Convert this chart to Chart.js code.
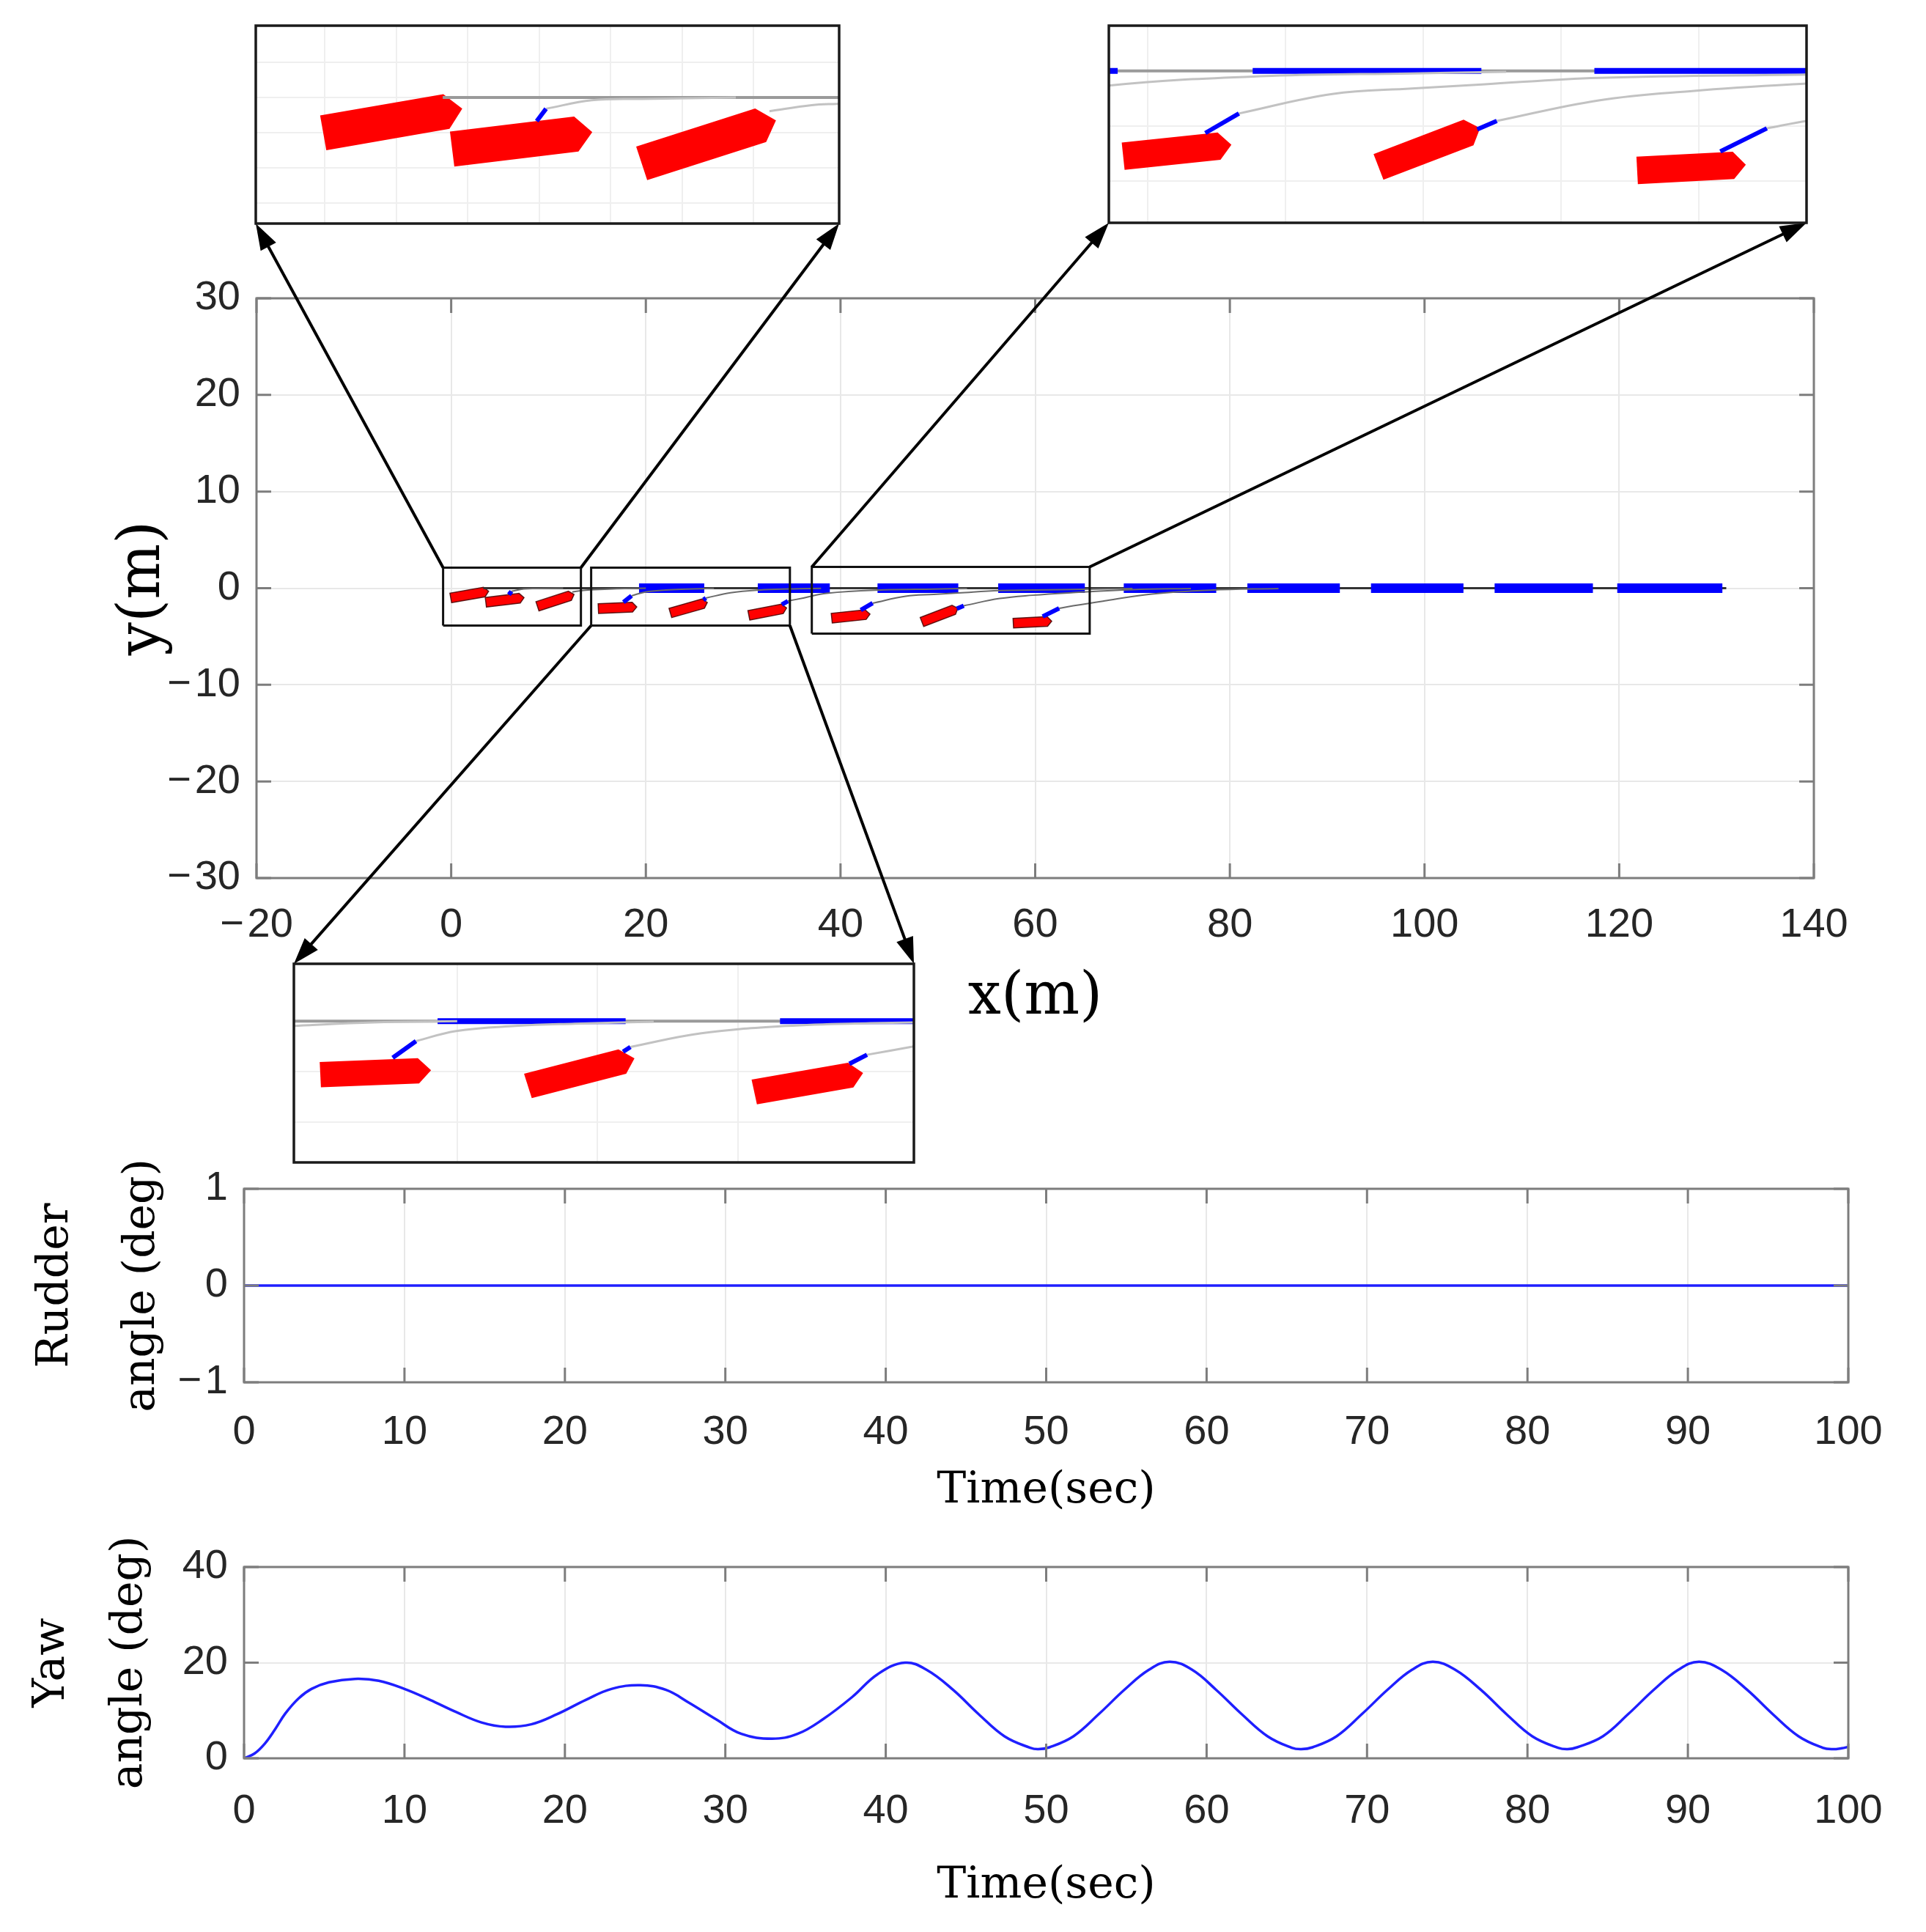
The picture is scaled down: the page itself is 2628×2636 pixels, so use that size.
<!DOCTYPE html>
<html>
  <head>
    <title>Ship path following</title>
    <script src="https://cdn.jsdelivr.net/npm/chart.js"></script>
    <style>
      body { margin: 0; background: #fff; }
      #page { position: relative; width: 2628px; height: 2636px; overflow: hidden; }
      canvas { position: absolute; }
    </style>
  </head>
  <body>
    <div id="page">
      <canvas id="trackChart" width="2628" height="1610" style="left:0px;top:0px"></canvas>
      <canvas id="rudderChart" width="2628" height="540" style="left:0px;top:1540px"></canvas>
      <canvas id="yawChart" width="2628" height="576" style="left:0px;top:2060px"></canvas>
    </div>

    <script>
      // ---- ship snapshots on the x-y plane (m, deg) ----
      const shipX = [1.68, 5.30, 10.53, 16.87, 24.2, 32.3, 40.84, 50.0, 59.5];
      const shipY = [-0.70, -1.25, -1.33, -2.04, -2.08, -2.47, -2.92, -2.87, -3.53];
      const shipHeading = [10, 7, 18, 2.5, 16, 11, 6, 21, 3];
      // hull outline in the ship frame (m)
      const hullX = [-1.75, 1.75, 2.2, 1.75, -1.75];
      const hullY = [-0.5, -0.5, 0, 0.5, 0.5];

      // short blue lines at the bow
      const rudderX0 = [5.93, 17.70, 25.91, 33.97, 42.08, 51.95, 60.77];
      const rudderY0 = [-0.67, -1.45, -1.21, -1.69, -2.26, -2.13, -2.93];
      const rudderX1 = [6.19, 18.53, 26.17, 34.60, 43.30, 52.66, 62.46];
      const rudderY1 = [-0.32, -0.79, -1.02, -1.33, -1.55, -1.82, -2.09];

      // grey predicted paths
      const pathX = [
        [6.19, 7.47, 8.89, 11.5],
        [12.44, 13.62, 14.33, 17.0, 20.0],
        [18.53, 19.96, 22.07, 24.18, 27.0],
        [26.17, 28.70, 31.71, 34.72, 38.0],
        [34.60, 36.26, 38.58, 44.48, 49.57, 53.0],
        [43.30, 46.69, 49.57, 52.12, 56.36, 63.90, 70.0],
        [52.66, 56.36, 59.75, 63.90, 70.0, 76.0],
        [62.46, 63.90, 67.3, 72.0, 78.0, 85.0]
      ];
      const pathY = [
        [-0.32, -0.08, -0.04, 0],
        [-0.39, -0.22, -0.18, -0.05, 0],
        [-0.79, -0.39, -0.19, -0.10, -0.02],
        [-1.02, -0.48, -0.19, -0.08, -0.02],
        [-1.33, -1.00, -0.53, -0.18, -0.09, -0.03],
        [-1.55, -0.84, -0.64, -0.49, -0.25, -0.13, -0.04],
        [-1.82, -1.07, -0.73, -0.46, -0.15, -0.03],
        [-2.09, -1.82, -1.29, -0.60, -0.20, -0.03]
      ];

      // reference line and the blue dashed desired path
      const refX = [3.3, 131.0];
      const refY = [0, 0];
      const dashStart = [19.3, 31.5, 43.8, 56.2, 69.1, 81.8, 94.5, 107.2, 119.8];
      const dashEnd = [26.0, 38.9, 52.1, 65.1, 78.6, 91.3, 104.0, 117.3, 130.6];

      // zoom boxes on the main plot
      const zoomBoxX0 = [-0.83, 14.38, 37.05];
      const zoomBoxX1 = [13.33, 34.80, 65.60];
      const zoomBoxY0 = [-3.87, -3.87, -4.70];
      const zoomBoxY1 = [2.12, 2.12, 2.20];

      // inset windows (top-left, top-right, bottom)
      const insetXMin = [-1.93, 38.58, 14.18];
      const insetXMax = [14.39, 63.90, 36.27];
      const insetYMin = [-3.58, -5.53, -5.59];
      const insetYMax = [2.04, 1.65, 2.27];
      const insetXStep = [2, 5, 5];
      const insetYStep = [1, 2, 2];

      // ---- time histories ----
      const rudderT = [0, 100];
      const rudderDeg = [0, 0];
      const yawT = [0, 0.65, 1.3, 1.94, 2.58, 3.39, 4.2, 5.3, 6.9, 8.4, 10.0, 11.6, 13.2, 14.8, 16.3,
        17.9, 19.5, 21.3, 22.9, 24.7, 26.3, 27.7, 29.4, 31.0, 32.9, 34.5, 36.1, 37.9, 39.5, 41.2,
        42.6, 44.2, 45.8, 47.4, 49.0, 49.5, 50.2, 51.7, 53.3, 54.9, 56.4, 57.7, 59.1, 60.6, 62.2,
        63.8, 65.3, 65.9, 66.6, 68.1, 69.7, 71.3, 72.8, 74.1, 75.5, 77.1, 78.7, 80.3, 81.9, 82.5,
        83.1, 84.7, 86.3, 87.9, 89.4, 90.7, 92.1, 93.7, 95.3, 96.9, 98.4, 99.0, 99.6, 100];
      const yawDeg = [0, 1.0, 3.1, 6.1, 9.4, 12.5, 14.5, 15.9, 16.6, 16.2, 14.5, 12.2, 9.7, 7.5, 6.6,
        7.1, 9.2, 12.2, 14.5, 15.3, 14.3, 11.7, 8.2, 5.1, 4.1, 5.1, 8.2, 12.8, 17.6, 20.0,
        18.4, 14.3, 9.2, 4.6, 2.2, 1.9, 2.3, 4.6, 9.3, 14.4, 18.5, 20.2, 18.5, 14.3, 9.2,
        4.6, 2.2, 1.9, 2.3, 4.6, 9.3, 14.4, 18.5, 20.2, 18.5, 14.3, 9.2, 4.6, 2.2, 1.9,
        2.3, 4.6, 9.3, 14.4, 18.5, 20.2, 18.5, 14.3, 9.2, 4.6, 2.2, 1.9, 2.1, 2.4];

      const sans = "'Liberation Sans', Arial, sans-serif";
      const serif = "'DejaVu Serif', 'Liberation Serif', serif";
      const tickFont = { family: sans, size: 56 };
      const BLUE = "#0000ff";

      function minus(v) {
        return v < 0 ? "\u2212\u200a" + Math.abs(v) : String(v);
      }

      function line(xs, ys, color, width, tension) {
        return {
          data: xs.map((x, i) => ({ x: x, y: ys[i] })),
          showLine: true,
          borderColor: color,
          borderWidth: width,
          borderJoinStyle: "miter",
          pointRadius: 0,
          tension: tension || 0,
          clip: 0
        };
      }

      // everything on the x-y plane, listed bottom to top
      function trackDatasets(s) {
        const sets = [];
        sets.push(line(refX, refY, s.refColor, s.refWidth));
        dashStart.forEach((x0, i) => sets.push(line([x0, dashEnd[i]], [0, 0], BLUE, s.dashWidth)));
        pathX.forEach((px, i) => sets.push(line(px, pathY[i], s.pathColor, s.pathWidth, 0.4)));
        rudderX0.forEach((x0, i) =>
          sets.push(line([x0, rudderX1[i]], [rudderY0[i], rudderY1[i]], BLUE, s.rudderWidth))
        );
        if (s.boxes) {
          zoomBoxX0.forEach((x0, i) => {
            const x1 = zoomBoxX1[i], y0 = zoomBoxY0[i], y1 = zoomBoxY1[i];
            sets.push(line([x0, x1, x1, x0, x0], [y0, y0, y1, y1, y0], "#111", 3));
          });
        }
        // chart.js paints dataset 0 last
        return sets.reverse();
      }

      const shipPlugin = {
        id: "ships",
        beforeDatasetsDraw(chart, args, opts) {
          const { ctx, chartArea: a } = chart;
          const sx = chart.scales.x, sy = chart.scales.y;
          ctx.save();
          ctx.beginPath();
          ctx.rect(a.left, a.top, a.width, a.height);
          ctx.clip();
          shipX.forEach((cx, i) => {
            const r = (shipHeading[i] * Math.PI) / 180;
            ctx.beginPath();
            hullX.forEach((hx, k) => {
              const px = sx.getPixelForValue(cx + hx * Math.cos(r) - hullY[k] * Math.sin(r));
              const py = sy.getPixelForValue(shipY[i] + hx * Math.sin(r) + hullY[k] * Math.cos(r));
              if (k === 0) ctx.moveTo(px, py);
              else ctx.lineTo(px, py);
            });
            ctx.closePath();
            ctx.fillStyle = "#ff0000";
            ctx.fill();
            if (opts.outline) {
              ctx.strokeStyle = "rgba(70,0,0,0.85)";
              ctx.lineWidth = 1.5;
              ctx.stroke();
            }
          });
          ctx.restore();
        }
      };

      // box round the plot area, with inward ticks like matlab
      const framePlugin = {
        id: "frame",
        afterDatasetsDraw(chart, args, o) {
          const { ctx, chartArea: a } = chart;
          ctx.save();
          ctx.strokeStyle = o.color;
          ctx.lineWidth = o.width;
          if (o.tickLen) {
            const L = o.tickLen;
            ctx.beginPath();
            chart.scales.x.ticks.forEach((t) => {
              const p = chart.scales.x.getPixelForValue(t.value);
              ctx.moveTo(p, a.bottom); ctx.lineTo(p, a.bottom - L);
              ctx.moveTo(p, a.top); ctx.lineTo(p, a.top + L);
            });
            chart.scales.y.ticks.forEach((t) => {
              const p = chart.scales.y.getPixelForValue(t.value);
              ctx.moveTo(a.left, p); ctx.lineTo(a.left + L, p);
              ctx.moveTo(a.right, p); ctx.lineTo(a.right - L, p);
            });
            ctx.stroke();
          }
          ctx.strokeRect(a.left, a.top, a.width, a.height);
          ctx.restore();
        }
      };

      // fixed axis sizes so the plot areas land where the figure has them
      function fixHeight(h) {
        return (s) => { s.height = h; s.paddingLeft = 0; s.paddingRight = 0; };
      }
      function fixWidth(w) {
        return (s) => { s.width = w; s.paddingTop = 0; s.paddingBottom = 0; };
      }

      const page = document.getElementById("page");

      // ---- the three zoomed insets ----
      const insetBoxes = [
        [349, 35, 796, 270],
        [1513, 35, 952, 269],
        [401, 1315, 846, 271]
      ];
      const m = 6;
      const insetStyle = {
        refColor: "#9a9a9a", refWidth: 4, dashWidth: 8,
        pathColor: "#c2c2c2", pathWidth: 3, rudderWidth: 6, boxes: false
      };

      const insetCharts = insetBoxes.map((b, k) => {
        const cv = document.createElement("canvas");
        cv.width = b[2] + 2 * m;
        cv.height = b[3] + 2 * m;
        cv.style.left = b[0] - m + "px";
        cv.style.top = b[1] - m + "px";
        page.appendChild(cv);
        return new Chart(cv, {
          type: "scatter",
          data: { datasets: trackDatasets(insetStyle) },
          options: {
            responsive: false,
            devicePixelRatio: 1,
            animation: false,
            events: [],
            layout: { padding: m },
            plugins: {
              legend: { display: false },
              tooltip: { enabled: false },
              frame: { color: "#1a1a1a", width: 3.5 },
              ships: { outline: false }
            },
            scales: {
              x: {
                min: insetXMin[k], max: insetXMax[k],
                afterFit: fixHeight(0),
                ticks: { display: false, stepSize: insetXStep[k] },
                grid: { color: "#efefef", lineWidth: 2, drawTicks: false },
                border: { display: false }
              },
              y: {
                min: insetYMin[k], max: insetYMax[k],
                afterFit: fixWidth(0),
                ticks: { display: false, stepSize: insetYStep[k] },
                grid: { color: "#efefef", lineWidth: 2, drawTicks: false },
                border: { display: false }
              }
            }
          },
          plugins: [shipPlugin, framePlugin]
        });
      });

      // arrows: [box, box right?, box top?, inset, inset right?, inset top?]
      const arrowLinks = [
        [0, 0, 1, 0, 0, 0],
        [0, 1, 1, 0, 1, 0],
        [2, 0, 1, 1, 0, 0],
        [2, 1, 1, 1, 1, 0],
        [1, 0, 0, 2, 0, 1],
        [1, 1, 0, 2, 1, 1]
      ];

      const arrowPlugin = {
        id: "zoomArrows",
        afterDraw(chart) {
          const { ctx } = chart;
          const sx = chart.scales.x, sy = chart.scales.y;
          ctx.save();
          ctx.strokeStyle = "#000";
          ctx.fillStyle = "#000";
          ctx.lineWidth = 4;
          arrowLinks.forEach(([b, bx, by, k, ix, iy]) => {
            const x0 = sx.getPixelForValue(bx ? zoomBoxX1[b] : zoomBoxX0[b]);
            const y0 = sy.getPixelForValue(by ? zoomBoxY1[b] : zoomBoxY0[b]);
            const a = insetCharts[k].chartArea;
            const c = insetCharts[k].canvas;
            const x1 = c.offsetLeft + (ix ? a.right : a.left);
            const y1 = c.offsetTop + (iy ? a.top : a.bottom);
            const ang = Math.atan2(y1 - y0, x1 - x0);
            const cs = Math.cos(ang), sn = Math.sin(ang);
            const head = 36, half = 12;
            ctx.beginPath();
            ctx.moveTo(x0, y0);
            ctx.lineTo(x1 - head * 0.8 * cs, y1 - head * 0.8 * sn);
            ctx.stroke();
            ctx.beginPath();
            ctx.moveTo(x1, y1);
            ctx.lineTo(x1 - head * cs + half * sn, y1 - head * sn - half * cs);
            ctx.lineTo(x1 - head * cs - half * sn, y1 - head * sn + half * cs);
            ctx.closePath();
            ctx.fill();
          });
          ctx.restore();
        }
      };

      const axisGrid = { color: "#e8e8e8", lineWidth: 2, drawTicks: false };

      // ---- main x-y plot ----
      new Chart(document.getElementById("trackChart"), {
        type: "scatter",
        data: {
          datasets: trackDatasets({
            refColor: "#333", refWidth: 3, dashWidth: 13,
            pathColor: "#6a6a6a", pathWidth: 2, rudderWidth: 6, boxes: true
          })
        },
        options: {
          responsive: false,
          devicePixelRatio: 1,
          animation: false,
          events: [],
          layout: { padding: { left: 0, top: 407, right: 153, bottom: 0 } },
          plugins: {
            legend: { display: false },
            tooltip: { enabled: false },
            frame: { color: "#7d7d7d", width: 3, tickLen: 20 },
            ships: { outline: true }
          },
          scales: {
            x: {
              min: -20, max: 140,
              afterFit: fixHeight(412),
              ticks: { stepSize: 20, padding: 31, font: tickFont, color: "#262626",
                       callback: minus, maxRotation: 0, autoSkip: false },
              grid: axisGrid,
              border: { display: false },
              title: { display: true, text: "x(m)", color: "#000",
                       font: { family: serif, size: 80, lineHeight: 1.2 },
                       padding: { top: 0, bottom: 200 } }
            },
            y: {
              min: -30, max: 30,
              afterFit: fixWidth(350),
              ticks: { stepSize: 10, padding: 22, font: tickFont, color: "#262626", callback: minus },
              grid: axisGrid,
              border: { display: false },
              title: { display: true, text: "y(m)", color: "#000",
                       font: { family: serif, size: 80, lineHeight: 1.2 },
                       padding: { top: 148, bottom: 0 } }
            }
          }
        },
        plugins: [shipPlugin, framePlugin, arrowPlugin]
      });

      // ---- time plots ----
      function timeChart(id, t, v, yMin, yMax, yStep, yTitle, titleLH, titlePad, pads) {
        return new Chart(document.getElementById(id), {
          type: "scatter",
          data: {
            datasets: [{
              data: t.map((x, i) => ({ x: x, y: v[i] })),
              showLine: true,
              borderColor: "#1f1fff",
              borderWidth: 3.5,
              pointRadius: 0,
              tension: 0.4
            }]
          },
          options: {
            responsive: false,
            devicePixelRatio: 1,
            animation: false,
            events: [],
            layout: { padding: { left: 0, top: pads.top, right: 106, bottom: 0 } },
            plugins: {
              legend: { display: false },
              tooltip: { enabled: false },
              frame: { color: "#7d7d7d", width: 3, tickLen: 20 }
            },
            scales: {
              x: {
                min: 0, max: 100,
                afterFit: fixHeight(pads.axis),
                ticks: { stepSize: 10, padding: pads.tick, font: tickFont, color: "#262626",
                         maxRotation: 0, autoSkip: false },
                grid: axisGrid,
                border: { display: false },
                title: { display: true, text: "Time(sec)", color: "#000",
                         font: { family: serif, size: 60, lineHeight: 1.2 },
                         padding: { top: 0, bottom: pads.title } }
              },
              y: {
                min: yMin, max: yMax,
                afterFit: fixWidth(333),
                ticks: { stepSize: yStep, padding: 22, font: tickFont, color: "#262626", callback: minus },
                grid: axisGrid,
                border: { display: false },
                title: { display: true, text: yTitle, color: "#000",
                         font: { family: serif, size: 60, lineHeight: titleLH },
                         padding: { top: titlePad, bottom: 0 } }
              }
            }
          },
          plugins: [framePlugin]
        });
      }

      timeChart("rudderChart", rudderT, rudderDeg, -1, 1, 1, ["Rudder", "angle (deg)"], 1.97, 17,
                { top: 82, axis: 194, tick: 35, title: 10 });
      timeChart("yawChart", yawT, yawDeg, 0, 40, 20, ["Yaw", "angle (deg)"], 1.77, 18,
                { top: 78, axis: 237, tick: 39, title: 27 });
    </script>
  </body>
</html>
